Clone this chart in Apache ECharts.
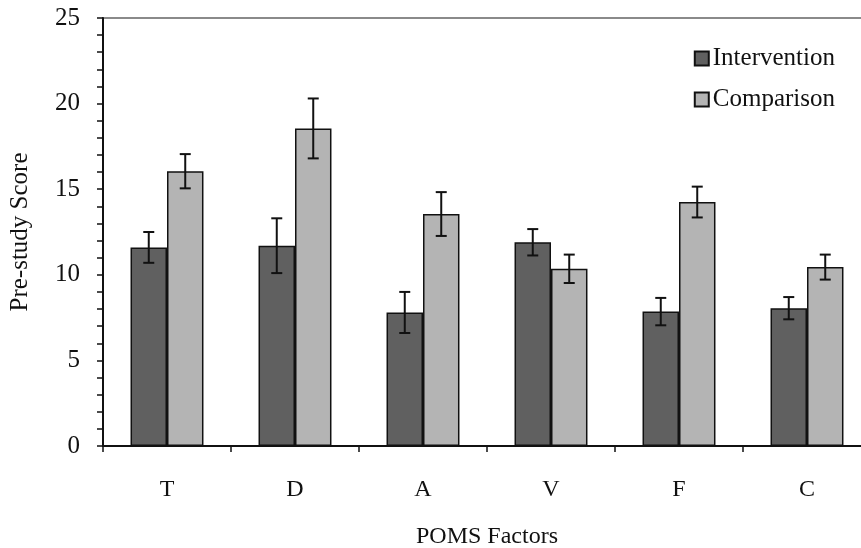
<!DOCTYPE html>
<html>
<head>
<meta charset="utf-8">
<script src="https://cdn.jsdelivr.net/npm/echarts@6/dist/echarts.min.js"></script>
<style>html,body{margin:0;padding:0;background:#fff}#c{width:861px;height:548px}</style>
</head>
<body>
<div id="c"></div>
<script>
const categories = ['T', 'D', 'A', 'V', 'F', 'C'];
const interventionMean = [11.6, 11.7, 7.8, 11.9, 7.85, 8.05];
const interventionErr = [0.9, 1.6, 1.2, 0.77, 0.8, 0.65];
const comparisonMean = [16.05, 18.55, 13.55, 10.35, 14.25, 10.45];
const comparisonErr = [1.0, 1.75, 1.28, 0.83, 0.9, 0.73];
const yTicks = [0, 5, 10, 15, 20, 25];

const FONT = "'Liberation Serif', 'Times New Roman', serif";
const chart = echarts.init(document.getElementById('c'));
const GAP = 0.43;

function errSeries(means, errs, side) {
  return {
    type: 'custom',
    silent: true,
    z: 5,
    data: means.map((m, i) => [i, m, errs[i]]),
    renderItem: function (params, api) {
      const i = api.value(0), m = api.value(1), e = api.value(2);
      const band = api.size([1, 0])[0];
      const off = side * band * (1 - GAP) / 4;
      const top = api.coord([i, m + e]);
      const bot = api.coord([i, m - e]);
      const x = top[0] + off;
      const cap = 5.5;
      const st = { stroke: '#111', lineWidth: 2 };
      return {
        type: 'group',
        children: [
          { type: 'line', shape: { x1: x, y1: top[1], x2: x, y2: bot[1] }, style: st },
          { type: 'line', shape: { x1: x - cap, y1: top[1], x2: x + cap, y2: top[1] }, style: st },
          { type: 'line', shape: { x1: x - cap, y1: bot[1], x2: x + cap, y2: bot[1] }, style: st }
        ]
      };
    }
  };
}

chart.setOption({
  animation: false,
  backgroundColor: '#fff',
  textStyle: { fontFamily: FONT },
  grid: {
    left: 103, top: 18, width: 768, height: 428,
    containLabel: false,
    outerBoundsMode: 'none',
    show: true, borderColor: '#8a8a8a', borderWidth: 2, backgroundColor: 'transparent'
  },
  legend: {
    data: ['Intervention', 'Comparison'],
    orient: 'vertical',
    right: 21, top: 41,
    itemWidth: 14, itemHeight: 14, itemGap: 16,
    icon: 'rect',
    textStyle: { fontFamily: FONT, fontSize: 25, color: '#111', padding: [0, 0, 0, -1] }
  },
  xAxis: {
    type: 'category',
    data: categories,
    name: 'POMS Factors',
    nameLocation: 'middle',
    nameGap: 79,
    nameTextStyle: { fontFamily: FONT, fontSize: 24, color: '#111' },
    axisLine: { lineStyle: { color: '#111', width: 2 } },
    axisTick: { show: true, length: 6, lineStyle: { color: '#111', width: 1.5 } },
    axisLabel: { fontFamily: FONT, fontSize: 24, color: '#111', margin: 32 }
  },
  yAxis: {
    type: 'value',
    min: 0, max: 25, interval: 5,
    name: 'Pre-study Score',
    nameLocation: 'middle',
    nameGap: 70,
    nameTextStyle: { fontFamily: FONT, fontSize: 25, color: '#111' },
    axisLine: { show: true, lineStyle: { color: '#111', width: 2 } },
    axisTick: { show: true, length: 6, lineStyle: { color: '#111', width: 1.5 } },
    minorTick: { show: true, splitNumber: 5, length: 6, lineStyle: { color: '#111', width: 1.5 } },
    splitLine: { show: false },
    axisLabel: {
      fontFamily: FONT, fontSize: 25, color: '#111', margin: 23,
      formatter: v => (yTicks.indexOf(v) >= 0 ? String(v) : '')
    }
  },
  series: [
    {
      name: 'Intervention', type: 'bar', data: interventionMean,
      barGap: '0%', barCategoryGap: '43%',
      itemStyle: { color: '#606060', borderColor: '#111', borderWidth: 1.5 }
    },
    {
      name: 'Comparison', type: 'bar', data: comparisonMean,
      barGap: '0%', barCategoryGap: '43%',
      itemStyle: { color: '#b4b4b4', borderColor: '#111', borderWidth: 1.5 }
    },
    errSeries(interventionMean, interventionErr, -1),
    errSeries(comparisonMean, comparisonErr, 1)
  ]
});
</script>
</body>
</html>
